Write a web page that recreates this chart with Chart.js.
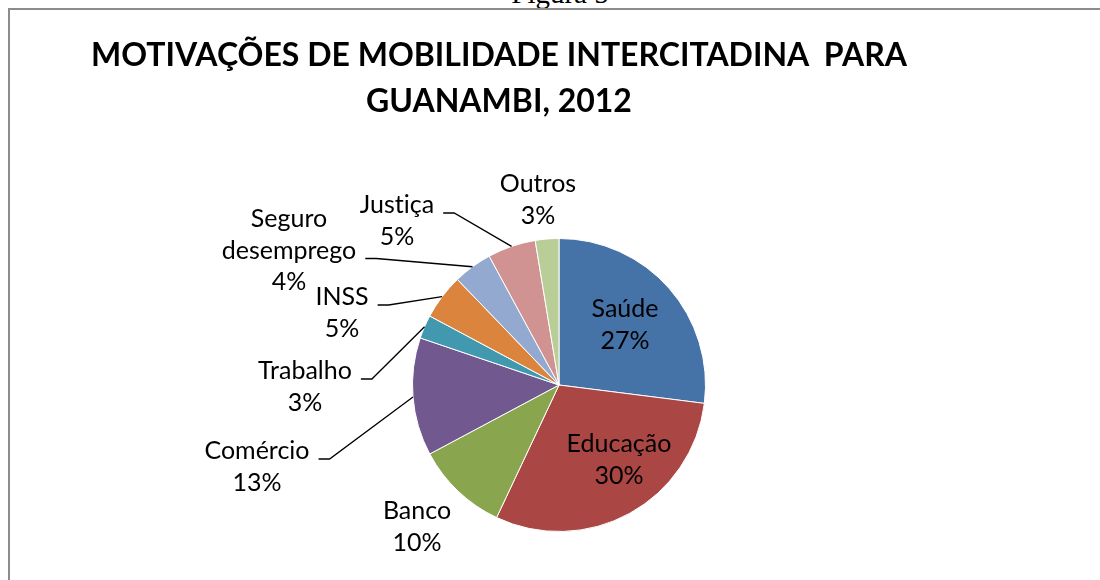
<!DOCTYPE html>
<html lang="pt">
<head>
  <meta charset="UTF-8" />
  <title>Motivações de mobilidade intercitadina para Guanambi, 2012</title>
  <script src="https://cdn.jsdelivr.net/npm/chart.js"></script>
  <style>
    html, body {
      margin: 0;
      padding: 0;
      background: #fff;
      width: 1100px;
      height: 580px;
      overflow: hidden;
    }
    .fig {
      position: absolute;
      left: 0;
      width: 1120px;
      top: -21px;
      text-align: center;
      font-family: 'Liberation Serif', serif;
      font-size: 29px;
      line-height: 29px;
      color: #000;
    }
    .frame {
      position: absolute;
      left: 8px;
      top: 8px;
      width: 1200px;
      height: 700px;
      border-left: 2px solid #8c8c8c;
      border-top: 2px solid #8c8c8c;
    }
    .title {
      position: absolute;
      left: 0;
      width: 998px;
      top: 31px;
      text-align: center;
      font-family: Lato, sans-serif;
      font-weight: bold;
      font-size: 32px;
      line-height: 46px;
      color: #000;
      white-space: pre;
    }
    #chart {
      position: absolute;
      left: 0;
      top: 0;
      font-variant-ligatures: none;
    }
  </style>
</head>
<body>
  <div class="fig">Figura 5</div>
  <div class="frame"></div>
  <canvas id="chart" width="1100" height="580"></canvas>
  <div class="title">MOTIVAÇÕES DE MOBILIDADE INTERCITADINA  PARA
GUANAMBI, 2012</div>

  <script>
    // data (percent of trips)
    const categories = ['Saúde', 'Educação', 'Banco', 'Comércio', 'Trabalho', 'INSS', ['Seguro', 'desemprego'], 'Justiça', 'Outros'];
    const values = [27, 30, 10.2, 13, 2.6, 5, 4.3, 5.3, 2.6];
    const colors = ['#4572A7', '#AA4643', '#89A54E', '#71588F', '#4198AF', '#DB843D', '#93A9CF', '#D19392', '#B9CD96'];

    // label placement (baseline of first line, centre x) and which ones get a leader line
    const labelPos = [
      { x: 625, y: 317 }, { x: 619, y: 452 }, { x: 417, y: 519 },
      { x: 257, y: 459 }, { x: 305, y: 379 }, { x: 342, y: 305 },
      { x: 289, y: 227 }, { x: 397, y: 213 }, { x: 538, y: 192 }
    ];
    const hasLeader = [false, false, false, true, true, true, true, true, false];

    const LABEL_FONT = '25px Lato, sans-serif';
    const LINE_H = 31.5;

    // Lato joins "ti" into a ligature; a zero-width non-joiner keeps the letters apart
    const noLig = s => s.replace(/ti/g, 't\u200Ci');

    const pieLabels = {
      id: 'pieLabels',
      afterDatasetsDraw(chart) {
        const ctx = chart.ctx;
        const meta = chart.getDatasetMeta(0);
        const total = values.reduce((a, b) => a + b, 0);
        ctx.save();
        ctx.font = LABEL_FONT;
        if ('textRendering' in ctx) ctx.textRendering = 'optimizeSpeed';
        ctx.fillStyle = '#000';
        ctx.strokeStyle = '#000';
        ctx.lineWidth = 1.3;
        ctx.textAlign = 'center';
        ctx.textBaseline = 'alphabetic';
        meta.data.forEach((arc, i) => {
          const p = arc.getProps(['x', 'y', 'startAngle', 'endAngle', 'outerRadius'], true);
          const name = Array.isArray(categories[i]) ? categories[i] : [categories[i]];
          const lines = name.concat([Math.round(values[i] / total * 100) + '%']);
          const pos = labelPos[i];
          lines.forEach((t, k) => ctx.fillText(noLig(t), pos.x, pos.y + k * LINE_H));

          if (hasLeader[i]) {
            const last = noLig(name[name.length - 1]);
            const right = pos.x + ctx.measureText(last).width / 2;
            const ly = pos.y + (name.length - 1) * LINE_H;
            const mid = (p.startAngle + p.endAngle) / 2;
            const ex = p.x + Math.cos(mid) * p.outerRadius;
            const ey = p.y + Math.sin(mid) * p.outerRadius;
            ctx.beginPath();
            ctx.moveTo(right + 9, ly);
            ctx.lineTo(right + 20, ly);
            ctx.lineTo(ex, ey);
            ctx.stroke();
          }
        });
        ctx.restore();
      }
    };

    new Chart(document.getElementById('chart'), {
      type: 'pie',
      data: {
        labels: categories,
        datasets: [{
          data: values,
          backgroundColor: colors,
          borderColor: '#ffffff',
          borderWidth: 1
        }]
      },
      options: {
        responsive: false,
        animation: false,
        layout: { padding: { left: 412, right: 394, top: 238, bottom: 48 } },
        plugins: {
          legend: { display: false },
          tooltip: { enabled: false }
        }
      },
      plugins: [pieLabels]
    });
  </script>
</body>
</html>
